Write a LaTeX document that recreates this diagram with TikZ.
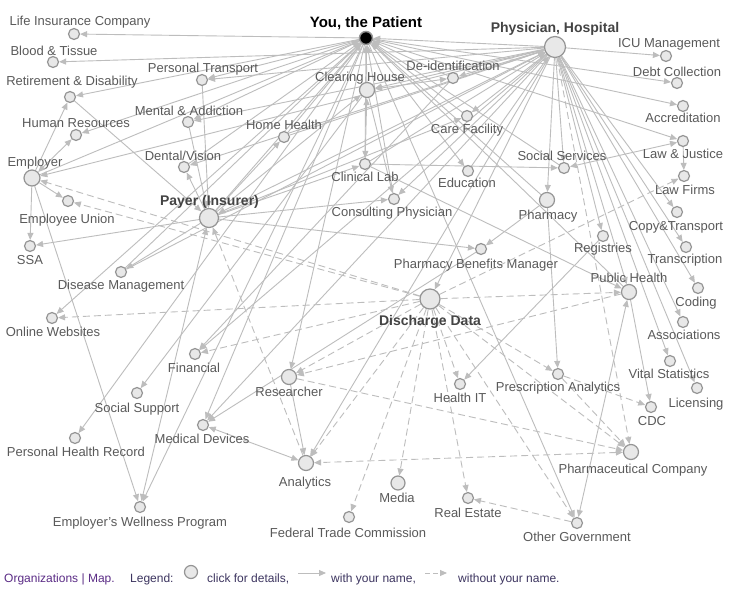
\documentclass[tikz,border=0pt]{standalone}
\usepackage{fontspec}
\setmainfont{Liberation Sans}
\usetikzlibrary{arrows.meta}
\definecolor{edgec}{HTML}{BDBDBD}
\definecolor{nfill}{HTML}{E8E8E8}
\definecolor{nline}{HTML}{959595}
\definecolor{lblc}{HTML}{5A5A5A}
\definecolor{boldc}{HTML}{444444}
\definecolor{legc}{HTML}{3D3560}
\definecolor{linkc}{HTML}{5B2C86}
\pgfdeclarelayer{bg}
\pgfsetlayers{bg,main}
\tikzset{
  org/.style={circle, fill=nfill, draw=nline, line width=1.2pt, inner sep=0pt, minimum size=11pt},
  midn/.style={minimum size=15pt},
  bign/.style={minimum size=19pt},
  lbl/.style={font=\fontsize{13}{15}\selectfont, text=lblc, inner sep=0pt, anchor=base},
  blbl/.style={font=\fontsize{14}{16}\selectfont\bfseries, text=boldc, inner sep=0pt, anchor=base},
  tip/.tip={Triangle[length=7pt,width=6pt]},
  e/.style={draw=edgec, line width=0.9pt, -tip},
  be/.style={draw=edgec, line width=0.9pt, tip-tip},
  de/.style={e, dash pattern=on 7pt off 4pt},
  bde/.style={be, dash pattern=on 7pt off 4pt}
}
\begin{document}
\begin{tikzpicture}[x=1pt,y=-1pt]
\useasboundingbox (0,0) rectangle (741,604);
% ---- nodes
\node[circle, fill=black, draw=nline, line width=1.5pt, inner sep=0pt, minimum size=13pt] (pat) at (366,38) {};
\node[org,minimum size=21pt] (phy) at (555,47) {};
\node[org] (lic) at (74,34) {};
\node[org] (bt) at (53,62) {};
\node[org] (rd) at (70,97) {};
\node[org] (pt) at (202,80) {};
\node[org] (ma) at (188,122) {};
\node[org] (hr) at (76,135) {};
\node[org,midn,minimum size=16pt] (emp) at (32,178) {};
\node[org] (dv) at (184,167) {};
\node[org] (hh) at (284,137) {};
\node[org,midn] (ch) at (367,90) {};
\node[org] (di) at (453,78) {};
\node[org] (cf) at (467,116) {};
\node[org] (cl) at (365,164) {};
\node[org] (edu) at (468,171) {};
\node[org] (cp) at (394,199) {};
\node[org,bign] (pay) at (209,218) {};
\node[org] (eu) at (68,201) {};
\node[org] (ssa) at (30,246) {};
\node[org] (dm) at (121,272) {};
\node[org] (ow) at (52,318) {};
\node[org] (fin) at (195,354) {};
\node[org] (pbm) at (481,249) {};
\node[org,minimum size=20pt] (dd) at (430,299) {};
\node[org,midn] (res) at (289,377) {};
\node[org] (hit) at (460,384) {};
\node[org] (ss) at (564,168) {};
\node[org,midn] (phar) at (547,200) {};
\node[org] (reg) at (603,236) {};
\node[org,midn] (ph) at (629,292) {};
\node[org] (icu) at (666,56) {};
\node[org] (debt) at (677,83) {};
\node[org] (acc) at (683,106) {};
\node[org] (law) at (683,141) {};
\node[org] (lf) at (684,176) {};
\node[org] (copy) at (677,212) {};
\node[org] (tr) at (686,247) {};
\node[org] (cod) at (698,288) {};
\node[org] (assoc) at (683,322) {};
\node[org] (vs) at (670,361) {};
\node[org] (lics) at (697,388) {};
\node[org] (cdc) at (651,407) {};
\node[org] (pa) at (558,374) {};
\node[org,midn] (phco) at (631,452) {};
\node[org] (og) at (577,523) {};
\node[org] (re) at (468,498) {};
\node[org,minimum size=14pt] (med) at (398,483) {};
\node[org] (ftc) at (349,517) {};
\node[org,midn] (ana) at (306,463) {};
\node[org] (md) at (203,425) {};
\node[org] (ssup) at (137,393) {};
\node[org] (phr) at (75,438) {};
\node[org] (ewp) at (140,507) {};
% ---- labels
\node[blbl, text=black, font=\fontsize{15}{17}\selectfont\bfseries] (pat-t) at (366,27.5) {You, the Patient};
\node[blbl] (phy-t) at (555,33) {Physician, Hospital};
\node[blbl] (pay-t) at (209.5,205) {Payer (Insurer)};
\node[blbl] (dd-t) at (430,325) {Discharge Data};
\node[lbl] (lic-t) at (80,25.5) {Life Insurance Company};
\node[lbl] (bt-t) at (54,55.5) {Blood \& Tissue};
\node[lbl] (rd-t) at (72,85.5) {Retirement \& Disability};
\node[lbl] (pt-t) at (203,72.5) {Personal Transport};
\node[lbl] (ma-t) at (189,115.5) {Mental \& Addiction};
\node[lbl] (hr-t) at (76,127.5) {Human Resources};
\node[lbl] (emp-t) at (35,166.5) {Employer};
\node[lbl] (dv-t) at (183,160.5) {Dental/Vision};
\node[lbl] (hh-t) at (284,130) {Home Health};
\node[lbl] (ch-t) at (360,81.5) {Clearing House};
\node[lbl] (di-t) at (453,71) {De-identification};
\node[lbl] (cf-t) at (467,133.5) {Care Facility};
\node[lbl] (cl-t) at (365,182) {Clinical Lab};
\node[lbl] (edu-t) at (467,187.5) {Education};
\node[lbl] (cp-t) at (392,216.5) {Consulting Physician};
\node[lbl] (eu-t) at (67,223.5) {Employee Union};
\node[lbl] (ssa-t) at (30,264) {SSA};
\node[lbl] (dm-t) at (121,289.5) {Disease Management};
\node[lbl] (ow-t) at (53,336.5) {Online Websites};
\node[lbl] (fin-t) at (194,372) {Financial};
\node[lbl] (pbm-t) at (476,268.5) {Pharmacy Benefits Manager};
\node[lbl] (res-t) at (289,396.5) {Researcher};
\node[lbl] (hit-t) at (460,402.5) {Health IT};
\node[lbl] (ss-t) at (562,160.5) {Social Services};
\node[lbl] (phar-t) at (548,219.5) {Pharmacy};
\node[lbl] (reg-t) at (603,252.5) {Registries};
\node[lbl] (ph-t) at (629,282.5) {Public Health};
\node[lbl] (icu-t) at (669,47.5) {ICU Management};
\node[lbl] (debt-t) at (677,76.5) {Debt Collection};
\node[lbl] (acc-t) at (683,122.5) {Accreditation};
\node[lbl] (law-t) at (683,158.5) {Law \& Justice};
\node[lbl] (lf-t) at (685,194.5) {Law Firms};
\node[lbl] (copy-t) at (676,230.5) {Copy\&Transport};
\node[lbl] (tr-t) at (685,263.5) {Transcription};
\node[lbl] (cod-t) at (696,306.5) {Coding};
\node[lbl] (assoc-t) at (684,339.5) {Associations};
\node[lbl] (vs-t) at (669,378.5) {Vital Statistics};
\node[lbl] (lics-t) at (696,407.5) {Licensing};
\node[lbl] (cdc-t) at (652,425.5) {CDC};
\node[lbl] (pa-t) at (558,391.5) {Prescription Analytics};
\node[lbl] (phco-t) at (633,473.5) {Pharmaceutical Company};
\node[lbl] (og-t) at (577,541.5) {Other Government};
\node[lbl] (re-t) at (468,517.5) {Real Estate};
\node[lbl] (med-t) at (397,502.5) {Media};
\node[lbl] (ftc-t) at (348,537.5) {Federal Trade Commission};
\node[lbl] (ana-t) at (305,486) {Analytics};
\node[lbl] (md-t) at (202,443.5) {Medical Devices};
\node[lbl] (ssup-t) at (137,412.5) {Social Support};
\node[lbl] (phr-t) at (76,456.5) {Personal Health Record};
\node[lbl] (ewp-t) at (140,526.5) {Employer's Wellness Program};
% ---- edges
\begin{pgfonlayer}{bg}
\fill[white] (0,0) rectangle (741,604);
\foreach \a/\b in {phy/pat, ch/pat, pay/pat, emp/pat, hh/pat, dv/pat, cl/pat, cp/pat, phar/pat, dm/pat, di/pat, cf/pat, ss/pat, ph/pat,
  pat/lic, pat/rd, pat/pt, pat/ma, pat/hr, pat/debt, pat/acc, pat/law, pat/ow, pat/phr, pat/og, pat/ewp, pat/edu, pat/md, pat/res,
  phy/bt, phy/emp, phy/pt, phy/ma, phy/dv, phy/icu, phy/copy, phy/tr, phy/cod, phy/assoc, phy/vs, phy/lics, phy/reg, phy/phar, phy/ss, phy/ph, phy/md, phy/ch, phy/di, phy/cf, phy/cp, phy/dd, phy/ana, phy/fin,
  cl/phy, hh/phy, edu/phy, dm/phy,
  pt/pay, ma/pay, rd/pay, pay/dv, pay/hh, pay/ssa, pay/dm, pay/cp, pay/pbm, pay/cf, pay/cl, pay/ch,
  emp/rd, emp/eu, emp/ssa, emp/ewp,
  di/fin, res/ana, phar/pa, phar/pbm, law/lf, cl/ss, ch/cp, ph/cdc, cl/ph, pbm/md, ch/ssup, reg/hit}
  \draw[e] (\a) -- (\b);
\foreach \a/\b in {pay/phy, pay/ewp, emp/hr, md/ana, law/ss, cl/ch, di/ch, ph/og}
  \draw[be] (\a) -- (\b);
\foreach \a/\b in {dd/emp, dd/eu, dd/ow, dd/fin, dd/res, dd/ana, dd/med, dd/ftc, dd/re, dd/hit, dd/pa, dd/phco, dd/og, dd/ph,
  ph/res, pa/phco, pa/cdc, phy/phco, og/re, ana/pay, dd/lf, res/phco}
  \draw[de] (\a) -- (\b);
\draw[bde] (phco) -- (ana);
\end{pgfonlayer}
% ---- legend
\node[font=\fontsize{12}{14}\selectfont, text=linkc, inner sep=0pt, anchor=base west] (lg1) at (4,582) {Organizations | Map.};
\node[font=\fontsize{12}{14}\selectfont, text=legc, inner sep=0pt, anchor=base west] (lg2) at (130,582) {Legend:};
\node[org, minimum size=13pt] (lgc) at (191,572) {};
\node[font=\fontsize{12}{14}\selectfont, text=legc, inner sep=0pt, anchor=base west] (lg3) at (207,582) {click for details,};
\coordinate (la1) at (298,573);
\coordinate (la2) at (326,573);
\draw[e] (la1) -- (la2);
\node[font=\fontsize{12}{14}\selectfont, text=legc, inner sep=0pt, anchor=base west] (lg4) at (331,582) {with your name,};
\coordinate (lb1) at (425,573);
\coordinate (lb2) at (447,573);
\draw[e, dash pattern=on 5pt off 3pt] (lb1) -- (lb2);
\node[font=\fontsize{12}{14}\selectfont, text=legc, inner sep=0pt, anchor=base west] (lg5) at (458,582) {without your name.};
\end{tikzpicture}
\end{document}
